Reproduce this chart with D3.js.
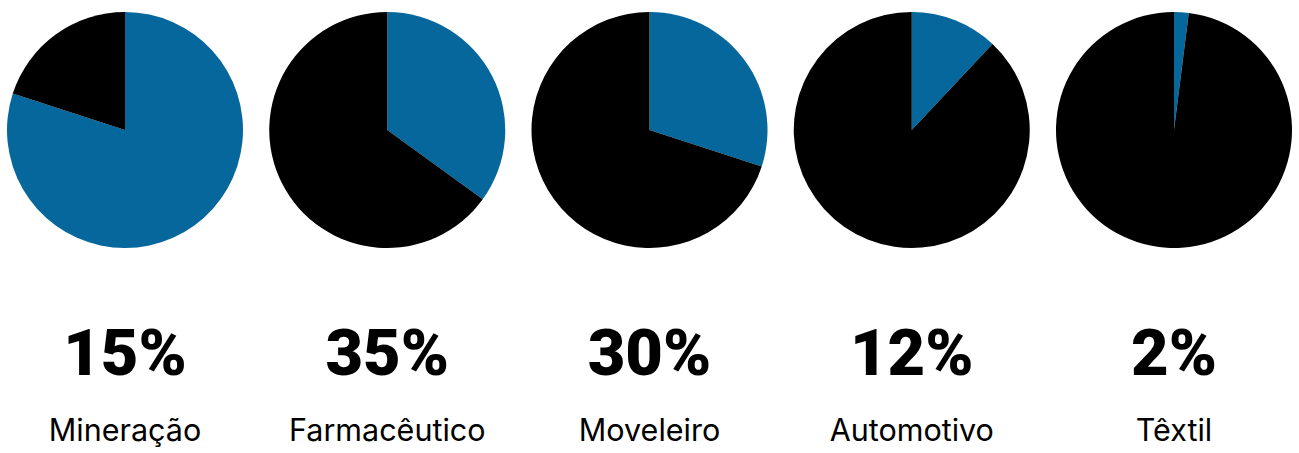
<!DOCTYPE html>
<html>
<head>
<meta charset="utf-8" />
<script src="https://d3js.org/d3.v7.min.js"></script>
<style>
  html, body { margin: 0; padding: 0; background: #fff; }
  svg { display: block; }
</style>
</head>
<body>
<div id="chart"></div>
<script>
// sectors and their headline figure
var sectors = ["Mineração", "Farmacêutico", "Moveleiro", "Automotivo", "Têxtil"];
var percentLabels = [15, 35, 30, 12, 2];
// blue share drawn in each pie (the first pie shows ~80%)
var blueShare = [80, 35, 30, 12, 2];

var width = 1299, height = 453;
var radius = 118;

var svg = d3.select("#chart")
  .append("svg")
    .attr("width", width)
    .attr("height", height);

// one column per sector
var x = d3.scalePoint()
  .domain(sectors)
  .range([125, 1174]);

var pie = d3.pie().sort(null).value(function(d) { return d; });
var arc = d3.arc().innerRadius(0).outerRadius(radius);
var colors = ["#05679b", "#000000"];

var cols = svg.selectAll("g.col")
  .data(sectors)
  .enter()
  .append("g")
    .attr("class", "col")
    .attr("transform", function(d) { return "translate(" + x(d) + ",0)"; });

cols.each(function(d, i) {
  var g = d3.select(this);
  g.append("g")
    .attr("transform", "translate(0,130)")
    .selectAll("path")
    .data(pie([blueShare[i], 100 - blueShare[i]]))
    .enter()
    .append("path")
      .attr("d", arc)
      .attr("fill", function(s, j) { return colors[j]; });
});

cols.append("text")
  .attr("y", 375)
  .attr("text-anchor", "middle")
  .style("font-family", "Roboto, sans-serif")
  .style("font-weight", 900)
  .style("font-size", "65px")
  .attr("fill", "#000")
  .text(function(d, i) { return percentLabels[i] + "%"; });

cols.append("text")
  .attr("y", 441)
  .attr("text-anchor", "middle")
  .style("font-family", "Inter, sans-serif")
  .style("font-weight", 400)
  .style("font-size", "30.5px")
  .attr("fill", "#000")
  .text(function(d) { return d; });
</script>
</body>
</html>
